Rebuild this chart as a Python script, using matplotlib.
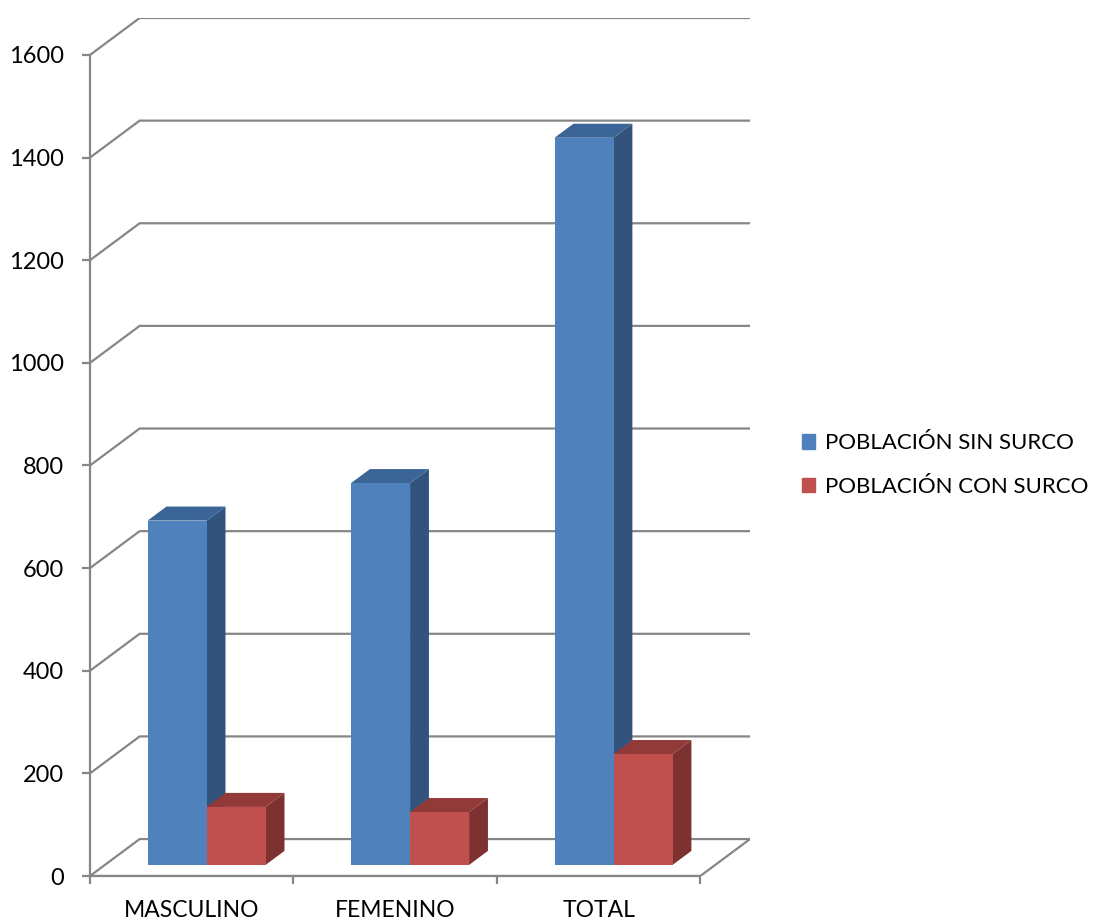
import numpy as np
import matplotlib
matplotlib.use('Agg')
import matplotlib.pyplot as plt
from matplotlib.patches import Polygon, Patch

# data
categories = ['MASCULINO', 'FEMENINO', 'TOTAL']
sin_surco = [671, 744, 1417]
con_surco = [113, 103, 216]
series_names = ['POBLACIÓN SIN SURCO', 'POBLACIÓN CON SURCO']
yticks = [0, 200, 400, 600, 800, 1000, 1200, 1400, 1600]

plt.rcParams['font.family'] = ['Lato', 'DejaVu Sans']

W, H = 1093, 921
fig = plt.figure(figsize=(W / 100, H / 100), dpi=100)
ax = fig.add_axes([90 / W, (H - 876) / H, 660 / W, 858 / H])

gray = '#868686'
# 3d depth of the back wall (category units, value units)
wall_dx, wall_dy = 0.244, 72
n = len(categories)
ax.set_xlim(0, n + wall_dx)
ax.set_ylim(0, 1600 + wall_dy)

# gridlines on the left + back wall
for v in yticks:
    ax.plot([0, wall_dx, n + wall_dx], [v, v + wall_dy, v + wall_dy],
            color=gray, lw=1.6, zorder=1, solid_capstyle='butt')
# floor front edge
ax.plot([0, n, n + wall_dx], [0, 0, wall_dy], color=gray, lw=1.6, zorder=1)

# bars
w = 0.29
f = 0.3    # depth position of bar front
d = 0.38   # bar depth
ox, oy = f * wall_dx, f * wall_dy
sdx, sdy = d * wall_dx, d * wall_dy

colors = [('#4F81BD', '#32537B', '#3B6497'), ('#C0504D', '#7D3130', '#923A38')]
for i in range(n):
    for k, vals in enumerate([sin_surco, con_surco]):
        v = vals[i]
        x0 = i + 0.5 - w + k * w + ox
        x1 = x0 + w
        front, side, top = colors[k]
        z = 3 + 2 * k
        ax.bar(x0, v, width=w, bottom=oy, align='edge', color=front, zorder=z + 1)
        ax.add_patch(Polygon([(x1, oy), (x1, oy + v), (x1 + sdx, oy + v + sdy), (x1 + sdx, oy + sdy)],
                             closed=True, color=side, lw=0, zorder=z))
        ax.add_patch(Polygon([(x0, oy + v), (x1, oy + v), (x1 + sdx, oy + v + sdy), (x0 + sdx, oy + v + sdy)],
                             closed=True, color=top, lw=0, zorder=z))

# axes
for s in ['top', 'right']:
    ax.spines[s].set_visible(False)
ax.spines['left'].set_bounds(0, 1600)
ax.spines['bottom'].set_bounds(0, n)
for s in ['left', 'bottom']:
    ax.spines[s].set_color(gray)
    ax.spines[s].set_linewidth(1.6)
ax.set_yticks(yticks)
ax.set_yticklabels([str(t) for t in yticks], fontsize=17)
ax.tick_params(axis='y', length=6, width=1.6, color=gray, pad=13)
ax.set_xticks(np.arange(n + 1))
ax.set_xticklabels([])
ax.tick_params(axis='x', which='major', length=6, width=1.6, color=gray)
ax.set_xticks(np.arange(n) + 0.5, minor=True)
ax.set_xticklabels(categories, minor=True, fontsize=16.5)
ax.tick_params(axis='x', which='minor', length=0, pad=17)
ax.patch.set_visible(False)

handles = [Patch(color=colors[0][0]), Patch(color=colors[1][0])]
fig.legend(handles, series_names, loc='center left', bbox_to_anchor=(782 / W, 1 - 465 / H),
           frameon=False, fontsize=16, handlelength=0.6, handleheight=0.6,
           handletextpad=0.45, labelspacing=1.05)

fig.savefig('out.png', dpi=100)
